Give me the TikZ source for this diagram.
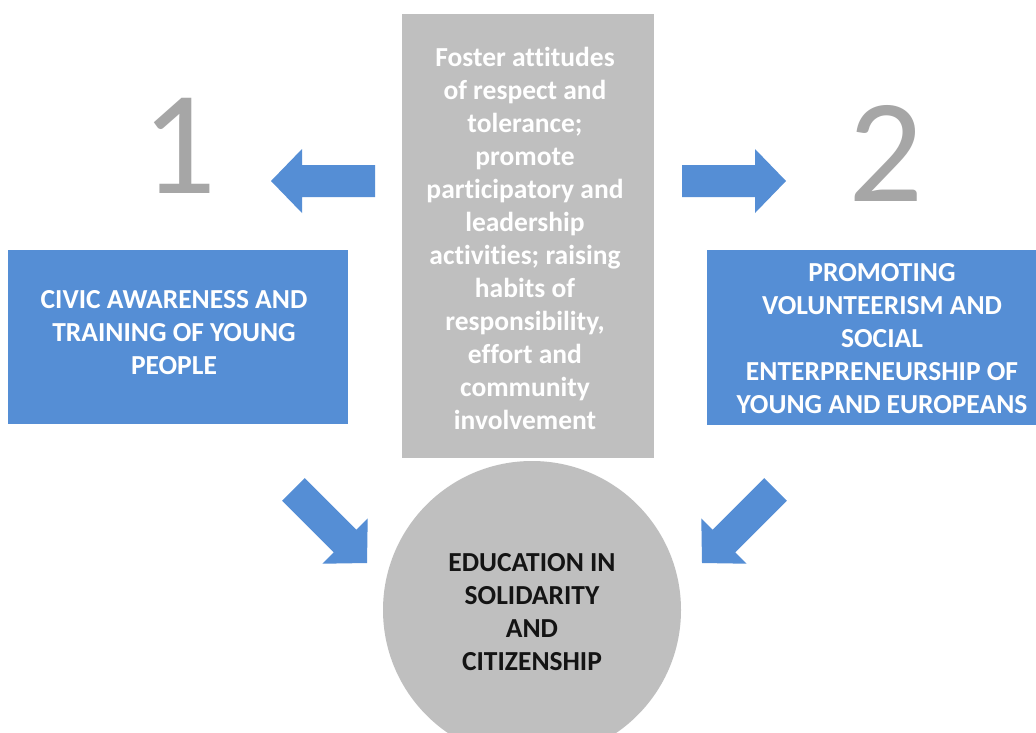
\documentclass[tikz,border=0pt]{standalone}
\usepackage{fontspec}
\setmainfont{Carlito}[Ligatures=NoCommon]
\definecolor{boxblue}{RGB}{85,142,213}
\definecolor{boxgray}{RGB}{191,191,191}
\definecolor{numgray}{RGB}{166,166,166}
\definecolor{txtdark}{RGB}{20,20,20}
\tikzset{
  bluebox/.style={draw=none, fill=boxblue, anchor=north west, inner sep=0pt},
  graybox/.style={draw=none, fill=boxgray, anchor=north west, inner sep=0pt},
  boxtext/.style={text=white, align=center, inner sep=0pt, font=\bfseries\fontsize{27.5}{33}\selectfont},
  circtext/.style={text=txtdark, align=center, inner sep=0pt, font=\bfseries\fontsize{27.5}{33}\selectfont},
  bignum/.style={text=numgray, inner sep=0pt, font=\fontsize{148}{148}\selectfont},
  blockarrow/.style={fill=boxblue, draw=none},
}
\newcommand{\blockarrowpath}{(0,0) -- (-31,32) -- (-31,16) -- (-104,16) -- (-104,-16) -- (-31,-16) -- (-31,-32) -- cycle}
\begin{document}
\begin{tikzpicture}[x=1pt,y=-1pt]
\clip (0,0) rectangle (1036,732);
\fill[white] (0,0) rectangle (1036,732);
% boxes
\node[graybox, minimum width=252pt, minimum height=444pt] (fosterbox) at (402,14) {};
\node[bluebox, minimum width=340pt, minimum height=174pt] (civicbox) at (8,250) {};
\node[bluebox, minimum width=350pt, minimum height=175pt] (volbox) at (707,250) {};
\node[circle, fill=boxgray, draw=none, minimum size=298pt, inner sep=0pt] (edu) at (532,610) {};
% texts
\node[boxtext] (foster) at (525,238) {Foster attitudes\\of respect and\\tolerance;\\promote\\participatory and\\leadership\\activities; raising\\habits of\\responsibility,\\effort and\\community\\involvement};
\node[boxtext] (civic) at (174,333) {CIVIC AWARENESS AND\\TRAINING OF YOUNG\\PEOPLE};
\node[boxtext] (vol) at (882,339) {PROMOTING\\VOLUNTEERISM AND\\SOCIAL\\ENTERPRENEURSHIP OF\\YOUNG AND EUROPEANS};
\node[circtext] (edutext) at (532,612) {EDUCATION IN\\SOLIDARITY\\AND\\CITIZENSHIP};
% numbers
\node[bignum] (one) at (179,146) {1};
\node[bignum] (two) at (886,153) {2};
% block arrows
\begin{scope}[shift={(271,181)}, rotate=180]
  \fill[blockarrow] \blockarrowpath;
\end{scope}
\begin{scope}[shift={(786,181)}]
  \fill[blockarrow] \blockarrowpath;
\end{scope}
\begin{scope}[shift={(367,563)}, rotate=-45]
  \fill[blockarrow] \blockarrowpath;
\end{scope}
\begin{scope}[shift={(702,563)}, rotate=-135]
  \fill[blockarrow] \blockarrowpath;
\end{scope}
\end{tikzpicture}
\end{document}
